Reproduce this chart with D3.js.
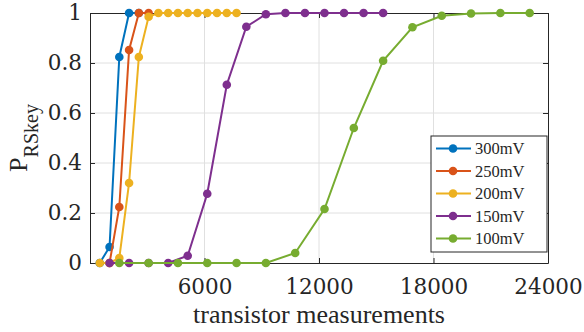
<!DOCTYPE html>
<html>
<head>
<meta charset="utf-8">
<script src="https://cdn.jsdelivr.net/npm/d3@7"></script>
<style>
  body { margin: 0; background: #fff; }
  svg text { font-family: "Liberation Serif", "DejaVu Serif", serif; fill: #262626; }
  svg .num text, svg text.num { font-family: "DejaVu Serif", serif; }
</style>
</head>
<body>
<div id="chart"></div>
<script>
// series data
const seriesNames = ["300mV", "250mV", "200mV", "150mV", "100mV"];
const seriesColors = ["#0072BD", "#D95319", "#EDB120", "#7E2F8E", "#77AC30"];

const x300 = [512, 1024, 1536, 2048, 2560];
const y300 = [0, 0.064, 0.824, 1, 1];

const x250 = [1024, 1536, 2048, 2560, 3072];
const y250 = [0, 0.224, 0.852, 1, 1];

const x200 = [512, 1024, 1536, 2048, 2560, 3072, 3584, 4096, 4608, 5120, 5632, 6144, 6656, 7168, 7680];
const y200 = [0, 0, 0.02, 0.32, 0.824, 0.985, 1, 1, 1, 1, 1, 1, 1, 1, 1];

const x150 = [1024, 2048, 3072, 4096, 5120, 6144, 7168, 8192, 9216, 10240, 11264, 12288, 13312, 14336, 15360];
const y150 = [0, 0, 0, 0, 0.029, 0.277, 0.713, 0.945, 0.995, 1, 1, 1, 1, 1, 1];

const x100 = [1536, 3072, 4608, 6144, 7680, 9216, 10752, 12288, 13824, 15360, 16896, 18432, 19968, 21504, 23040];
const y100 = [0, 0, 0, 0, 0, 0, 0.04, 0.216, 0.54, 0.809, 0.943, 0.989, 0.998, 1, 1];

const xTicks = [6000, 12000, 18000, 24000];
const yTicks = [0, 0.2, 0.4, 0.6, 0.8, 1];

const allX = [x300, x250, x200, x150, x100];
const allY = [y300, y250, y200, y150, y100];

const width = 584, height = 332;
const plotLeft = 90, plotRight = 548, plotTop = 13, plotBottom = 263;

const svg = d3.select("#chart").append("svg").attr("width", width).attr("height", height);

const x = d3.scaleLinear().domain([0, 24000]).range([plotLeft, plotRight]);
const y = d3.scaleLinear().domain([0, 1]).range([plotBottom, plotTop]);

// grid
svg.append("g")
  .selectAll("line")
  .data(xTicks.slice(0, -1))
  .enter()
  .append("line")
  .attr("x1", (d) => x(d)).attr("x2", (d) => x(d))
  .attr("y1", plotTop).attr("y2", plotBottom)
  .attr("stroke", "#e0e0e0").attr("stroke-width", 1);

svg.append("g")
  .selectAll("line")
  .data(yTicks.slice(1, -1))
  .enter()
  .append("line")
  .attr("x1", plotLeft).attr("x2", plotRight)
  .attr("y1", (d) => y(d)).attr("y2", (d) => y(d))
  .attr("stroke", "#e0e0e0").attr("stroke-width", 1);

// axes with inward ticks
const xAxis = svg.append("g")
  .attr("class", "num")
  .attr("transform", `translate(0,${plotBottom})`)
  .call(d3.axisBottom(x).tickValues(xTicks).tickSizeInner(-5).tickSizeOuter(0).tickPadding(16).tickFormat(d3.format("d")));
const xTop = svg.append("g")
  .attr("transform", `translate(0,${plotTop})`)
  .call(d3.axisTop(x).tickValues(xTicks).tickSizeInner(-5).tickSizeOuter(0).tickFormat(""));
const yAxis = svg.append("g")
  .attr("class", "num")
  .attr("transform", `translate(${plotLeft},0)`)
  .call(d3.axisLeft(y).tickValues(yTicks).tickSizeInner(-5).tickSizeOuter(0).tickPadding(8).tickFormat((d) => String(d)));
const yRight = svg.append("g")
  .attr("transform", `translate(${plotRight},0)`)
  .call(d3.axisRight(y).tickValues(yTicks).tickSizeInner(-5).tickSizeOuter(0).tickFormat(""));

[xAxis, xTop, yAxis, yRight].forEach((g) => {
  g.attr("font-family", null);
  g.select(".domain").attr("stroke", "#262626").attr("stroke-width", 1);
  g.selectAll(".tick line").attr("stroke", "#262626");
});
xAxis.selectAll("text").style("font-size", "21.5px");
yAxis.selectAll("text").style("font-size", "21.5px");

// series
const line = d3.line().x((d) => x(d[0])).y((d) => y(d[1]));

seriesNames.forEach((name, i) => {
  const pts = allX[i].map((v, j) => [v, allY[i][j]]);
  const g = svg.append("g");
  g.append("path")
    .datum(pts)
    .attr("d", line)
    .attr("fill", "none")
    .attr("stroke", seriesColors[i])
    .attr("stroke-width", 2);
  g.selectAll("circle")
    .data(pts)
    .enter()
    .append("circle")
    .attr("cx", (d) => x(d[0]))
    .attr("cy", (d) => y(d[1]))
    .attr("r", 4.3)
    .attr("fill", seriesColors[i]);
});

// axis labels
svg.append("text")
  .attr("x", (plotLeft + plotRight) / 2)
  .attr("y", 323)
  .attr("text-anchor", "middle")
  .style("font-size", "26px")
  .text("transistor measurements");

const yLab = svg.append("text")
  .attr("transform", `translate(27,${(plotTop + plotBottom) / 2}) rotate(-90)`)
  .attr("text-anchor", "middle")
  .style("font-size", "26px");
yLab.append("tspan").text("P");
yLab.append("tspan").attr("dy", 11).style("font-size", "20px").text("RSkey");

// legend
const legend = svg.append("g").attr("transform", "translate(431,136)");
legend.append("rect")
  .attr("width", 116).attr("height", 116)
  .attr("fill", "#fff").attr("stroke", "#262626").attr("stroke-width", 1);

const items = legend.selectAll(".item")
  .data(seriesNames)
  .enter()
  .append("g")
  .attr("class", "item")
  .attr("transform", (d, i) => `translate(0,${12.5 + i * 22.5})`);

items.append("line")
  .attr("x1", 5).attr("x2", 40)
  .attr("stroke", (d, i) => seriesColors[i]).attr("stroke-width", 2);
items.append("circle")
  .attr("cx", 22).attr("r", 4.3)
  .attr("fill", (d, i) => seriesColors[i]);
items.append("text")
  .attr("x", 44)
  .attr("dy", "0.36em")
  .style("font-size", "16.5px")
  .text((d) => d);
</script>
</body>
</html>
